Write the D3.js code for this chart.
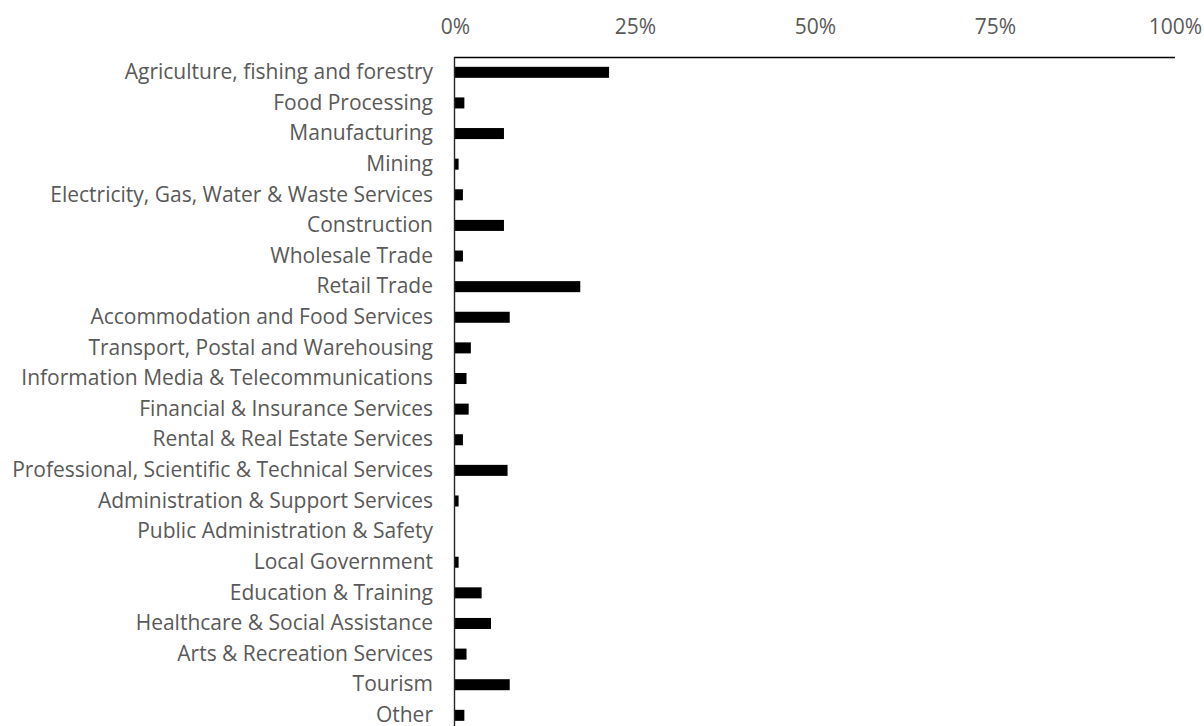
<!DOCTYPE html>
<html>
<head>
<meta charset="utf-8">
<script src="https://cdn.jsdelivr.net/npm/d3@7"></script>
<style>
  html, body { margin: 0; padding: 0; background: #fff; }
  svg { display: block; }
  text { font-family: "Open Sans", sans-serif; fill: #595959; }
</style>
</head>
<body>
<svg id="chart" width="1204" height="726"></svg>
<script>
// Share of businesses by industry
const categories = [
  "Agriculture, fishing and forestry",
  "Food Processing",
  "Manufacturing",
  "Mining",
  "Electricity, Gas, Water & Waste Services",
  "Construction",
  "Wholesale Trade",
  "Retail Trade",
  "Accommodation and Food Services",
  "Transport, Postal and Warehousing",
  "Information Media & Telecommunications",
  "Financial & Insurance Services",
  "Rental & Real Estate Services",
  "Professional, Scientific & Technical Services",
  "Administration & Support Services",
  "Public Administration & Safety",
  "Local Government",
  "Education & Training",
  "Healthcare & Social Assistance",
  "Arts & Recreation Services",
  "Tourism",
  "Other"
];
const shares = [
  0.214, 0.013, 0.068, 0.005, 0.011, 0.068, 0.011, 0.174, 0.076, 0.022, 0.016,
  0.019, 0.011, 0.073, 0.005, 0.0, 0.005, 0.037, 0.050, 0.016, 0.076, 0.013
];
const tickValues = [0, 0.25, 0.5, 0.75, 1];

const svg = d3.select("#chart");
const plotLeft = 455, plotRight = 1175, plotTop = 57;
const band = 30.62;
const fontSize = 21;

const x = d3.scaleLinear().domain([0, 1]).range([plotLeft, plotRight]);
const y = d3.scaleBand()
  .domain(categories)
  .range([plotTop, plotTop + band * categories.length])
  .paddingInner(0.64)
  .paddingOuter(0.32);

// bars
svg.append("g")
  .selectAll("rect")
  .data(categories.map((c, i) => ({ c, v: shares[i] })))
  .join("rect")
  .attr("x", x(0))
  .attr("y", d => y(d.c))
  .attr("width", d => x(d.v) - x(0))
  .attr("height", y.bandwidth())
  .attr("fill", "#000");

// top axis with percentage labels
const xAxis = d3.axisTop(x)
  .tickValues(tickValues)
  .tickFormat(d3.format(".0%"))
  .tickSize(0)
  .tickPadding(0);
const gx = svg.append("g").attr("transform", `translate(0,${plotTop})`).call(xAxis);
gx.select(".domain").remove();
gx.selectAll("text")
  .attr("y", -23)
  .attr("font-size", fontSize)
  .style("font-family", "'Open Sans', sans-serif")
  .attr("fill", "#595959");

// axis lines
svg.append("line")
  .attr("x1", x(0) - 1).attr("x2", x(1))
  .attr("y1", plotTop + 0.5).attr("y2", plotTop + 0.5)
  .attr("stroke", "#000").attr("stroke-width", 1.6);
svg.append("line")
  .attr("x1", x(0) - 0.5).attr("x2", x(0) - 0.5)
  .attr("y1", plotTop).attr("y2", 726)
  .attr("stroke", "#262626").attr("stroke-width", 1.4);

// category labels
const yAxis = d3.axisLeft(y).tickSize(0).tickPadding(22);
const gy = svg.append("g").attr("transform", `translate(${x(0)},0)`).call(yAxis);
gy.select(".domain").remove();
gy.selectAll("text")
  .attr("font-size", fontSize)
  .style("font-family", "'Open Sans', sans-serif")
  .attr("fill", "#595959");
</script>
</body>
</html>
